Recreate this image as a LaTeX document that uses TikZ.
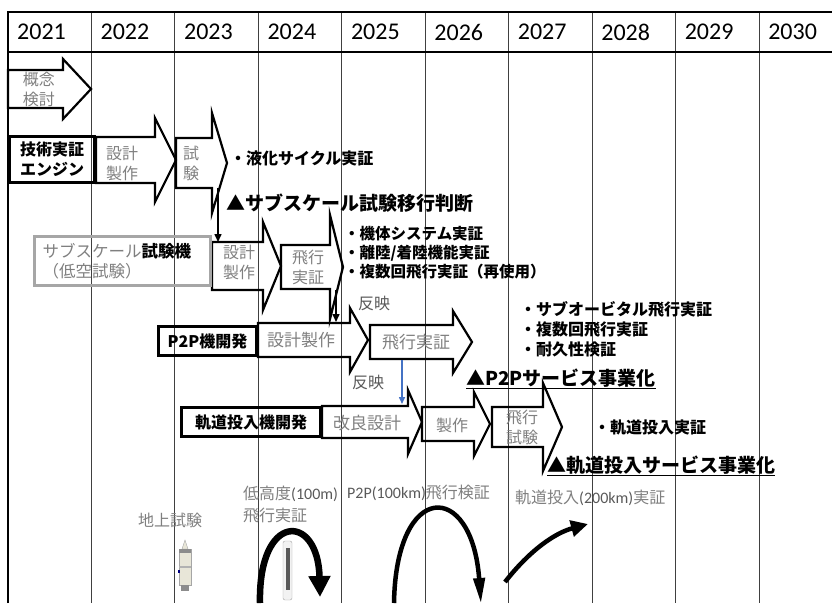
\documentclass[tikz,border=0pt]{standalone}
\usepackage{fontspec}
\setmainfont{Noto Sans CJK JP}
\newfontfamily\lat{Carlito}
\usetikzlibrary{arrows.meta}

\definecolor{txtg}{HTML}{7F7F7F}
\definecolor{refl}{HTML}{595959}
\definecolor{subline}{HTML}{A6A6A6}
\definecolor{feedblue}{HTML}{4472C4}
\definecolor{cream}{HTML}{E8E6D8}

\begin{document}
\begin{tikzpicture}[x=1pt,y=-1pt]
\tikzset{frame/.style={line width=1.8pt}}
\tikzset{col/.style={line width=1pt, black!75}}
\tikzset{yr/.style={anchor=west, inner sep=0pt, font=\lat\fontsize{24}{24}\selectfont}}
\tikzset{blk/.style={draw, line width=2.2pt, line join=miter}}
\tikzset{intxt/.style={text=txtg, align=center, inner sep=0pt, font=\fontsize{16}{20}\selectfont}}
\tikzset{bx/.style={draw, line width=3pt, inner sep=0pt, align=center, font=\bfseries\fontsize{16}{20}\selectfont}}
\tikzset{note/.style={anchor=west, inner sep=0pt, align=left, font=\bfseries\fontsize{16}{20}\selectfont}}
\tikzset{mile/.style={anchor=west, inner sep=0pt, font=\bfseries\fontsize{19}{22}\selectfont}}
\tikzset{sub/.style={text=txtg, inner sep=0pt, align=left, font=\fontsize{16}{22}\selectfont}}
\tikzset{conn/.style={line width=1.5pt, -{Triangle[width=7pt,length=8pt]}}}
\newcommand{\num}[1]{{\lat\color{refl}#1}}

\useasboundingbox (0,0) rectangle (832,603);

% year grid
\foreach \i in {1,...,9}
  \draw[col] ({8+83.45*\i},12) -- ({8+83.45*\i},603);
\draw[frame] (8,603) -- (8,12) -- (832,12);
\draw[frame] (8,52) -- (832,52);
\foreach \yr [count=\i from 0] in {2021,...,2030}
  \node[yr] (y\yr) at ({17+83.45*\i},32) {\yr};

% block arrows: tail x / head x / tip x / centre y / shaft half / head half
\foreach \xa/\xb/\xc/\yc/\bh/\hh in {8/63/91/89/19/30, 96/155/176/160/23/42,
    176/212/227/163/25/50, 212/263/281/266/24/44, 281/330/343/267/22/52,
    258/350/368/340/17/32, 370/453/472/342/17/31, 322/408/422/422/16/32,
    422/474/490/424/17/32, 492/543/562/427/20/44}
  \draw[blk] (\xa,\yc-\bh) -- (\xb,\yc-\bh) -- (\xb,\yc-\hh) -- (\xc,\yc)
    -- (\xb,\yc+\hh) -- (\xb,\yc+\bh) -- (\xa,\yc+\bh) -- cycle;

% programme boxes
\node[bx, minimum width=85pt, minimum height=46pt] (tech) at (52,159.5) {技術実証\\エンジン};
\node[bx, draw=subline, minimum width=176pt, minimum height=49pt, text width=160pt, align=left,
  font=\fontsize{16.5}{20}\selectfont] (sub) at (122.5,261)
  {{\color{txtg}サブスケール}\textbf{試験機}\\{\color{txtg}（低空試験）}};
\node[bx, minimum width=98pt, minimum height=29pt] (p2p) at (207.5,341) {P2P機開発};
\node[bx, minimum width=139pt, minimum height=29pt] (orb) at (251,422) {軌道投入機開発};

% phase labels
\node[intxt] (concept) at (39,89) {概念\\検討};
\node[intxt] (techd) at (122,163) {設計\\製作};
\node[intxt] (techt) at (191,163) {試\\験};
\node[intxt] (subd) at (239,262) {設計\\製作};
\node[intxt] (subf) at (308,267) {飛行\\実証};
\node[intxt, font=\fontsize{17}{20}\selectfont] (p2pd) at (301,340) {設計製作};
\node[intxt, font=\fontsize{17}{20}\selectfont] (p2pf) at (416,342) {飛行実証};
\node[intxt, font=\fontsize{17}{20}\selectfont] (orbr) at (367,423) {改良設計};
\node[intxt] (orbm) at (452,425) {製作};
\node[intxt] (orbf) at (522,427) {飛行\\試験};

% goals and milestones
\node[note] (liq) at (230,158) {・液化サイクル実証};
\node[mile] (judge) at (226,203) {▲サブスケール試験移行判断};
\node[note, font=\bfseries\fontsize{15.5}{19}\selectfont] (subgoal) at (344,253)
  {・機体システム実証\\・離陸/着陸機能実証\\・複数回飛行実証（再使用）};
\node[note] (p2pgoal) at (520,329) {・サブオービタル飛行実証\\・複数回飛行実証\\・耐久性検証};
\node[mile] (p2psvc) at (466,379) {\underline{▲P2Pサービス事業化}};
\node[note] (orbgoal) at (594,427) {・軌道投入実証};
\node[mile] (orbsvc) at (547,466) {\underline{▲軌道投入サービス事業化}};

% hand-overs
\node[text=refl, inner sep=0pt, font=\fontsize{16}{20}\selectfont] (refl1) at (374,303) {反映};
\node[text=refl, inner sep=0pt, font=\fontsize{16}{20}\selectfont] (refl2) at (368,382) {反映};
\coordinate (testbot) at (218,188);
\coordinate (subtop) at (218,242);
\coordinate (flightbot) at (336,290);
\coordinate (p2ptop) at (336,322);
\coordinate (p2pbot) at (402,360);
\coordinate (orbtop) at (402,404);
\draw[conn] (testbot) -- (subtop);
\draw[conn] (flightbot) -- (p2ptop);
\draw[conn, feedblue, -{Triangle[width=6pt,length=7pt]}] (p2pbot) -- (orbtop);

% flight profiles
\node[sub] (ground) at (170,520) {地上試験};
\node[sub, anchor=west] (low) at (243,504) {低高度\num{(100m)}\\飛行実証};
\node[sub, anchor=west] (p2pv) at (347,493) {\num{P2P(100km)}飛行検証};
\node[sub, anchor=west] (orbv) at (515,498) {軌道投入\num{(200km)}実証};

\draw[line width=6.5pt, -{Triangle[width=21pt,length=21pt]}]
  (260,603) .. controls (258,512) and (318,512) .. (320,597);
\draw[line width=4.5pt, -{Triangle[width=11pt,length=26pt]}]
  (394,603) .. controls (396,480) and (472,480) .. (481,604);
\draw[line width=4.5pt, -{Triangle[width=16pt,length=17pt]}]
  (505,582) .. controls (530,550) and (555,533) .. (588,524);

% test vehicles
\fill[cream, draw=black!35, line width=0.4pt] (182,549) -- (185,540) -- (188,549) -- cycle;
\fill[cream, draw=black!35, line width=0.4pt] (179,549) rectangle (191,585);
\fill[black!45] (179,549) rectangle (191,553);
\fill[black!30] (179,566) rectangle (191,568);
\fill[black!45] (181,585) rectangle (189,591);
\fill[blue!50!black] (178,570) rectangle (180,573);
\fill[black!5, draw=black!35, line width=0.4pt, rounded corners=2pt] (283,541) rectangle (292,600);
\fill[black!65] (285.5,548) rectangle (289.5,590);
\end{tikzpicture}
\end{document}
